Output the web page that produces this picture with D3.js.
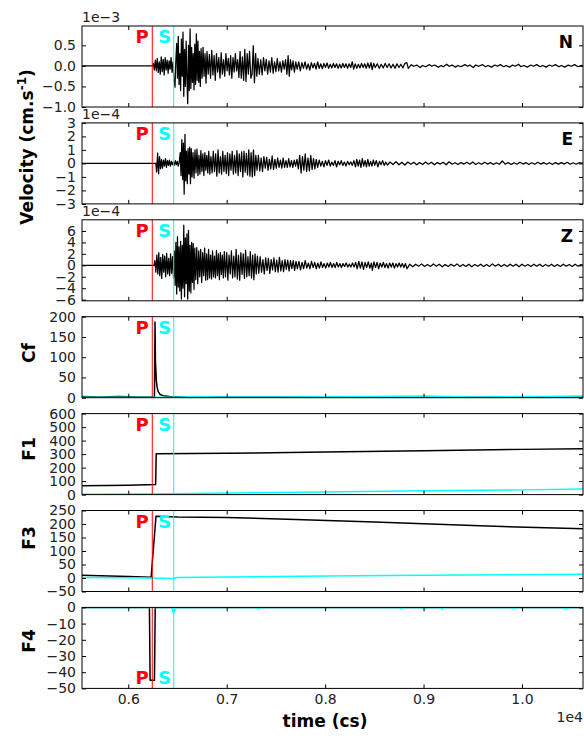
<!DOCTYPE html>
<html><head><meta charset="utf-8">
<script src="https://cdn.jsdelivr.net/npm/d3@7"></script>
<style>body{margin:0;background:#fff}svg{display:block}text{font-family:"DejaVu Sans",sans-serif}</style>
</head><body>
<script>
// ---------------- data ----------------
const timeDomain = [5530, 10620];           // cs
const xTicks = [6000, 7000, 8000, 9000, 10000];
const pickP = 6244, pickS = 6462;            // cs

// Velocity N (x1e-3)
const velN = [[5530,0],[6248,0],
[6255,.06],[6265,-.1],[6275,.14],[6285,-.12],[6295,.18],[6305,-.16],[6315,.1],[6325,-.2],[6335,.22],[6345,-.14],[6355,.16],[6365,-.22],[6375,.2],[6385,-.1],[6395,.14],[6405,-.18],[6415,.12],[6425,-.08],[6435,.2],[6445,-.16],[6455,.1],
[6465,-.35],[6475,-.52],[6483,.1],[6492,.55],[6500,-.3],[6508,.72],[6516,-.45],[6524,.3],[6532,-.6],[6540,.65],[6548,-.25],[6556,.82],[6564,-.74],[6572,.4],[6580,-.5],[6588,.6],[6596,-.3],[6604,-.92],[6612,.5],[6620,-.6],[6628,.9],[6636,-.55],[6644,.45],[6652,-.4],[6660,.3],[6668,-.58],[6676,.53],[6684,-.45],[6692,.78],[6700,-.35],[6708,.6],[6716,-.4],[6724,.35],[6732,-.5],[6740,.42],[6750,-.3],[6760,.45],[6770,-.25],[6780,.3],[6790,-.42],[6800,.35],[6812,-.2],[6824,.28],[6836,-.3],[6848,.38],[6860,-.22],[6872,.25],[6884,-.35],[6896,.3],[6908,-.15],[6920,.2],[6932,-.3],[6944,.32],[6956,-.2],[6968,.15],[6980,-.25],[6992,.3],[7004,-.12],[7016,.18],[7028,-.22],[7040,.25],[7052,-.3],[7064,.2],[7076,-.15],[7088,.3],[7100,-.12],[7112,.15],[7124,-.28],[7136,.35],[7148,-.3],[7160,.22],[7172,-.35],[7184,.4],[7196,-.38],[7208,.3],[7220,-.2],[7232,.35],[7246,-.3],[7258,-.2],[7270,.49],[7282,-.41],[7294,.3],[7306,-.25],
[7318,.18],[7332,-.2],[7346,.15],[7360,-.22],[7374,.2],[7388,-.12],[7402,.16],[7416,-.2],[7430,.12],[7444,-.15],[7458,.2],[7472,-.18],[7486,.1],[7500,-.14],[7514,.18],[7528,-.12],[7542,.1],[7556,-.15],[7570,.12],[7584,-.08],[7598,.15],[7612,-.2],[7624,.25],[7636,-.25],[7648,.15],[7660,-.1],[7674,.12],[7688,-.15],[7702,.1],[7716,-.08],
[7732,.1],[7748,-.12],[7764,.08],[7780,-.06],[7796,.1],[7812,-.08],[7828,.05],[7844,-.1],[7860,.08],[7876,-.05],[7892,.06],[7908,-.08],[7924,.1],[7940,-.06],[7956,.05],[7972,-.07],[7988,.06],[8004,-.04],[8020,.07],[8036,-.06],[8052,.04],[8068,-.05],[8084,.06],[8100,-.04],[8116,.05],[8132,-.06],[8148,.04],[8164,-.05],[8180,.06],[8196,-.04],[8212,.05],[8228,-.06],[8244,.05],[8260,-.04],[8276,.1],[8290,-.08],[8306,.05],[8322,-.06],[8338,.04],[8354,-.05],[8370,.06],[8386,-.04],[8402,.05],[8418,-.06],[8434,.07],[8450,-.05],[8466,.08],[8478,-.09],[8494,.06],[8510,-.04],[8530,.05],[8550,-.06],[8570,.04],[8590,-.05],[8610,.06],[8630,-.04],[8650,.05],[8670,-.05],[8690,.04],[8710,-.06],[8730,.05],[8750,-.04],[8770,.04],[8790,-.05],[8810,.06],[8830,.08],[8845,-.06],
[8875,.03],[8900,-.01],[8930,.02],[8965,-.04],[8990,.01],[9020,-.02],[9060,.03],[9085,-.01],[9110,.02],[9150,-.03],[9180,.01],[9200,-.02],[9235,.04],[9260,-.01],[9290,.02],[9325,-.03],[9350,.01],[9380,-.02],[9420,.03],[9450,-.01],[9470,.02],[9505,-.04],[9530,.02],[9560,-.01],[9600,.03],[9630,-.02],[9655,.01],[9690,-.03],[9725,.02],[9750,-.01],[9780,.03],[9815,-.02],[9840,.01],[9875,-.03],[9905,.02],[9930,-.01],[9965,.04],[9990,-.02],[10020,.01],[10055,-.03],[10090,.02],[10115,-.01],[10150,.03],[10185,-.02],[10210,.01],[10245,-.03],[10280,.02],[10305,-.01],[10340,.03],[10375,-.02],[10400,.01],[10435,-.03],[10470,.02],[10500,-.01],[10535,.03],[10570,-.02],[10600,.01],[10620,0]];

// Velocity E (x1e-4)
const velE = [[5530,0],[6280,0],
[6288,-.63],[6298,.76],[6308,-.76],[6318,.5],[6328,-.4],[6338,.3],[6348,-.35],[6358,.25],[6368,-.2],[6378,.35],[6388,-.3],[6398,.2],[6408,-.15],[6418,.25],[6428,-.2],[6438,.15],[6448,-.1],[6458,.12],[6468,-.15],[6478,.2],[6488,-.1],[6498,.15],[6508,-.2],[6518,.1],
[6528,.8],[6536,-.9],[6544,1.77],[6552,-1.2],[6560,1.5],[6568,-2.28],[6576,2.15],[6584,-1.3],[6592,.9],[6600,-1.5],[6608,1.1],[6616,-.8],[6624,1.2],[6632,-1.5],[6640,1.1],[6648,-1.0],[6658,.8],[6668,-1.1],[6678,1.0],[6688,-.7],[6698,1.05],[6708,-.9],[6718,.6],[6728,-.8],[6738,.95],[6748,-.6],[6758,.7],[6768,-.9],[6778,.8],[6788,-.5],[6798,.6],[6808,-.7],[6818,.9],[6828,-.8],[6840,.5],[6852,-.7],[6864,.9],[6876,-.6],[6888,.7],[6900,-.95],[6912,1.0],[6924,-.7],[6936,.5],[6948,-.8],[6960,.9],[6972,-.6],[6984,.6],[6996,-.75],[7008,.8],[7020,-.9],[7032,.7],[7044,-.5],[7056,.9],[7068,-.8],[7080,.6],[7092,-.7],[7104,.95],[7116,-.9],[7128,.7],[7140,-.6],[7152,.85],[7164,-1.0],[7176,.9],[7188,-.65],[7200,.75],[7212,-.85],[7224,1.0],[7236,-.95],[7248,.8],[7260,-1.0],[7272,1.0],[7284,-.9],[7296,.6],[7308,-.5],
[7322,.6],[7336,-.55],[7350,.4],[7364,-.6],[7378,.5],[7392,-.35],[7406,.45],[7420,-.5],[7434,.3],[7448,-.4],[7462,.55],[7476,-.45],[7490,.3],[7504,-.35],[7518,.4],[7532,-.3],[7546,.25],[7560,-.35],[7574,.4],[7588,-.3],[7602,.2],[7616,-.3],[7630,.35],[7644,-.25],[7658,.2],[7672,-.3],[7686,.25],[7700,-.2],[7714,.3],
[7728,-.4],[7742,.6],[7756,-.7],[7770,.5],[7784,-.5],[7798,.7],[7812,-.6],[7826,.4],[7840,-.55],[7854,.6],[7868,-.45],[7882,.35],[7896,-.4],[7910,.3],[7924,-.3],
[7940,.25],[7956,-.2],[7972,.15],[7988,-.25],[8004,.2],[8020,-.15],[8036,.25],[8052,-.2],[8068,.1],[8084,-.15],[8100,.2],[8116,-.25],[8132,.15],[8148,-.1],[8164,.2],[8180,-.15],[8196,.1],[8212,-.2],[8228,.15],[8244,-.1],[8260,.12],[8276,-.15],[8292,.2],
[8308,-.25],[8322,.3],[8336,-.2],[8350,.25],[8364,-.3],[8378,.35],[8392,-.2],[8406,.2],[8420,-.25],[8434,.3],[8448,-.2],[8462,.15],[8476,-.2],[8490,.25],[8504,-.15],[8520,.2],[8536,-.25],[8552,.15],[8568,-.1],[8584,.2],[8600,-.15],[8616,.1],[8632,-.12],
[8660,.1],[8690,-.08],[8720,.12],[8750,-.1],[8780,.08],[8810,-.12],[8840,.1],[8870,-.06],[8900,.08],[8930,-.1],[8960,.06],[8990,-.08],[9020,.1],[9050,-.06],[9080,.08],[9110,-.1],[9140,.06],[9170,-.05],[9200,.08],[9230,-.1],[9260,.12],[9290,-.06],[9320,.05],[9350,-.08],[9380,.06],[9410,-.05],[9440,.08],[9470,-.06],[9500,.1],[9530,-.08],[9560,.05],[9590,-.06],[9620,.08],[9650,-.05],[9680,.06],[9710,-.08],[9740,.05],[9770,-.06],[9800,.18],[9830,-.05],[9860,.06],[9890,-.08],[9920,.05],[9950,-.06],[9980,.08],[10010,-.05],[10040,.06],[10070,-.08],[10100,.05],[10130,-.06],[10160,.08],[10190,-.05],[10220,.06],[10250,-.06],[10280,.05],[10310,-.08],[10340,.06],[10370,-.05],[10400,.06],[10430,-.05],[10460,.08],[10490,-.06],[10520,.05],[10550,-.06],[10580,.05],[10620,0]];

// Velocity Z (x1e-4)
const velZ = [[5530,0],[6262,0],
[6270,.8],[6280,-1.2],[6290,1.8],[6300,-1.5],[6310,2.2],[6320,-1.8],[6330,1.4],[6340,-2.3],[6350,1.9],[6360,-1.2],[6370,1.6],[6380,-2.0],[6390,2.1],[6400,-1.5],[6410,1.2],[6420,-1.8],[6430,2.0],[6440,-1.4],[6450,1.5],[6460,-2.2],
[6468,2.5],[6476,-3.5],[6484,4.0],[6492,-5.0],[6500,5.0],[6508,-3.8],[6516,3.2],[6524,-4.5],[6532,4.2],[6540,-5.9],[6548,3.5],[6556,-4.0],[6564,7.0],[6572,-5.5],[6580,4.8],[6588,-3.2],[6596,5.5],[6604,-5.9],[6612,6.1],[6620,-4.5],[6628,3.5],[6636,-4.8],[6644,4.0],[6652,-3.0],[6660,3.8],[6668,-4.2],[6676,3.0],
[6686,-2.5],[6696,3.1],[6706,-3.2],[6716,2.5],[6726,-2.0],[6736,2.8],[6746,-3.0],[6756,2.2],[6766,-1.8],[6776,3.0],[6786,-2.6],[6796,2.0],[6806,-2.5],[6816,2.8],[6826,-2.2],[6836,1.8],[6846,-2.4],[6856,2.5],[6866,-2.0],[6876,1.6],[6886,-2.2],[6896,2.6],[6906,-1.8],[6916,2.0],[6926,-2.5],[6936,2.2],[6946,-1.6],[6956,1.8],[6966,-2.2],[6976,2.4],
[6988,-2.0],[7000,2.2],[7012,-2.6],[7024,1.8],[7036,-1.5],[7048,2.5],[7060,-2.2],[7072,1.6],[7084,-2.0],[7096,2.8],[7108,-2.4],[7120,1.8],[7132,-2.6],[7144,2.2],[7156,-1.6],[7168,2.0],[7180,-2.3],[7192,2.6],[7204,-2.0],[7216,1.5],[7228,-1.8],[7240,2.4],[7252,-2.2],[7264,1.8],[7276,-2.5],[7288,2.0],[7300,-1.5],[7312,1.6],
[7326,-1.4],[7340,1.5],[7354,-1.2],[7368,1.0],[7382,-1.5],[7396,1.3],[7410,-.9],[7424,1.2],[7438,-1.4],[7452,1.0],[7466,-.8],[7480,1.3],[7494,-1.1],[7508,.9],[7522,-1.2],[7536,1.4],[7550,-1.0],[7564,.8],[7578,-1.1],[7592,1.0],[7606,-.7],[7620,.9],[7634,-1.0],[7648,.8],[7662,-.6],[7676,.8],[7690,-.9],[7704,.7],[7718,-.6],
[7734,.7],[7750,-.8],[7766,.5],[7782,-.6],[7798,.8],[7814,-.5],[7830,.4],[7846,-.6],[7862,.7],[7878,-.4],[7894,.5],[7910,-.6],[7926,.4],[7942,-.5],[7958,.6],[7974,-.4],[7990,.3],[8006,-.5],[8022,.4],[8038,-.3],[8054,.5],[8070,-.4],[8086,.3],[8102,-.4],[8118,.5],[8134,-.3],[8150,.3],[8166,-.4],[8182,.3],[8198,-.2],[8214,.4],[8230,-.3],[8246,.2],[8262,-.3],[8278,.4],[8294,-.3],
[8310,.5],[8326,-.6],[8342,.7],[8358,-.5],[8374,.6],[8390,-.7],[8406,.5],[8422,-.4],[8438,.6],[8454,-.5],[8470,.4],[8480,-.9],[8496,.6],[8512,-.4],[8528,.5],[8544,-.6],[8560,.4],[8576,-.3],[8592,.5],[8608,-.4],[8624,.3],[8640,-.5],[8656,.4],[8672,-.3],[8688,.4],[8704,-.5],[8720,.3],[8736,-.3],[8752,.4],[8768,-.3],[8784,.3],[8800,-.4],[8816,.3],[8832,-.6],
[8860,.2],[8890,-.25],[8920,.2],[8950,-.15],[8980,.25],[9010,-.2],[9040,.15],[9070,-.2],[9100,.25],[9130,-.15],[9160,.2],[9190,-.25],[9220,.15],[9250,-.2],[9280,.2],[9310,-.15],[9340,.25],[9370,-.2],[9400,.15],[9430,-.2],[9460,.2],[9490,-.25],[9520,.15],[9550,-.15],[9580,.2],[9610,-.2],[9640,.15],[9670,-.2],[9700,.25],[9730,-.15],[9760,.2],[9790,-.2],[9820,.15],[9850,-.2],[9880,.2],[9910,-.15],[9940,.2],[9970,-.25],[10000,.2],[10030,-.15],[10060,.15],[10090,-.2],[10120,.2],[10150,-.15],[10180,.2],[10210,-.2],[10240,.15],[10270,-.15],[10300,.2],[10330,-.2],[10360,.15],[10390,-.2],[10420,.2],[10450,-.15],[10480,.15],[10510,-.2],[10540,.2],[10570,-.15],[10600,.15],[10620,0]];

// Characteristic function and features: black series and cyan series
const cfBlack = [[5530,3],[5700,2],[5900,3],[6100,2],[6266,2],[6272,187],[6276,90],[6280,70],[6286,40],[6294,25],[6304,15],[6324,8],[6354,5],[6420,3],[6600,2],[7000,1.5],[8000,1.5],[9000,1],[10620,1]];
const cfCyan  = [[5530,1],[6000,1],[6460,1],[6700,3],[6900,2],[7500,2],[8500,3],[9000,4],[9500,2],[10200,3],[10620,4]];
const f1Black = [[5530,66],[6000,70],[6278,74],[6284,302],[7000,306],[8000,316],[9000,325],[10000,335],[10620,340]];
const f1Cyan  = [[5530,3],[6460,6],[7000,12],[8000,20],[9000,28],[10000,35],[10620,42]];
const f3Black = [[5530,10],[6000,6],[6232,3],[6282,229],[6500,226],[7000,224],[7700,217],[8500,207],[9500,194],[10620,182]];
const f3Cyan  = [[5530,2],[6000,1],[6230,0],[6460,-2],[6500,2],[7000,4],[8000,7],[9000,10],[10620,14]];
const f4Black = [[5530,0],[6215,0],[6222,-45],[6266,-45],[6274,0],[10620,0]];
const f4Cyan  = [[5530,0],[6440,0],[6462,-3.5],[6484,0],[7300,0],[7320,-.8],[7340,0],[8750,0],[8770,-.8],[8790,0],[8990,0],[9010,-1],[9030,0],[9170,0],[9190,-1],[9210,0],[9890,0],[9910,-.6],[9930,0],[10420,0],[10440,-.8],[10460,-.8],[10480,0],[10620,0]];

// y tick values
const ticksN = [-1, -0.5, 0, 0.5];
const ticksE = [-3, -2, -1, 0, 1, 2, 3];
const ticksZ = [-6, -4, -2, 0, 2, 4, 6];
const ticksCf = [0, 50, 100, 150, 200];
const ticksF1 = [0, 100, 200, 300, 400, 500, 600];
const ticksF3 = [-50, 0, 50, 100, 150, 200, 250];
const ticksF4 = [-50, -40, -30, -20, -10, 0];

// ---------------- drawing ----------------
const W = 584, H = 738, L = 82, R = 583;
const svg = d3.select('body').append('svg').attr('width', W).attr('height', H);
const x = d3.scaleLinear().domain(timeDomain).range([L, R]);
const f1 = d3.format('.1f'), f0 = d3.format('d');

const panels = [
  {series:[[velN,'#000']], dom:[-1,0.97], ticks:ticksN, fmt:f1, comp:'N', off:'1e\u22123'},
  {series:[[velE,'#000']], dom:[-3,3], ticks:ticksE, fmt:f0, comp:'E', off:'1e\u22124'},
  {series:[[velZ,'#000']], dom:[-6.2,7.95], ticks:ticksZ, fmt:f0, comp:'Z', off:'1e\u22124'},
  {series:[[cfBlack,'#000'],[cfCyan,'#00ffff']], dom:[0,200], ticks:ticksCf, fmt:f0, ylab:'Cf', ly:353},
  {series:[[f1Black,'#000'],[f1Cyan,'#00ffff']], dom:[0,600], ticks:ticksF1, fmt:f0, ylab:'F1', ly:449},
  {series:[[f3Black,'#000'],[f3Cyan,'#00ffff']], dom:[-50,250], ticks:ticksF3, fmt:f0, ylab:'F3', ly:538},
  {series:[[f4Black,'#000'],[f4Cyan,'#00ffff']], dom:[-50,0], ticks:ticksF4, fmt:f0, ylab:'F4', ly:641, psBottom:true}
];

const PH = 81;
panels.forEach((p, i) => {
  const top = 26 + i * 96.9, bot = top + PH;
  const y = d3.scaleLinear().domain(p.dom).range([bot, top]);
  const g = svg.append('g');
  const cid = 'clip' + i;
  svg.append('clipPath').attr('id', cid).append('rect').attr('x', L).attr('y', top).attr('width', R - L).attr('height', PH);
  const inner = g.append('g').attr('clip-path', `url(#${cid})`);
  const line = d3.line().x(d => x(d[0])).y(d => y(d[1]));
  p.series.forEach(([data, col]) => {
    inner.append('path').datum(data).attr('d', line).attr('fill', 'none')
      .attr('stroke', col).attr('stroke-width', i < 3 ? 1.25 : 1.5).attr('stroke-linejoin', 'round');
  });
  // picks
  inner.append('line').attr('x1', x(pickP)).attr('x2', x(pickP)).attr('y1', top).attr('y2', bot).attr('stroke', '#ff0000').attr('stroke-width', 1);
  inner.append('line').attr('x1', x(pickS)).attr('x2', x(pickS)).attr('y1', top).attr('y2', bot).attr('stroke', '#00ffff').attr('stroke-width', 1);
  const psY = p.psBottom ? bot - 4 : top + 17;
  g.append('text').attr('x', x(pickP) - 3.5).attr('y', psY).attr('text-anchor', 'end').attr('font-size', 18).attr('font-weight', 'bold').attr('fill', '#ff0000').text('P');
  g.append('text').attr('x', x(pickS) - 2.5).attr('y', psY).attr('text-anchor', 'end').attr('font-size', 18).attr('font-weight', 'bold').attr('fill', '#00ffff').text('S');
  // axes
  const styleAx = a => { a.select('.domain').remove(); a.selectAll('line').attr('stroke', '#000'); a.selectAll('text').attr('font-size', 14).attr('fill', '#222').attr('font-family', '"DejaVu Sans",sans-serif'); };
  g.append('g').attr('transform', `translate(${L},0)`).call(d3.axisLeft(y).tickValues(p.ticks).tickFormat(p.fmt).tickSize(-4).tickPadding(6)).call(styleAx);
  g.append('g').attr('transform', `translate(${R},0)`).call(d3.axisRight(y).tickValues(p.ticks).tickFormat('').tickSize(-4)).call(styleAx);
  g.append('g').attr('transform', `translate(0,${top})`).call(d3.axisTop(x).tickValues(xTicks).tickFormat('').tickSize(-4)).call(styleAx);
  g.append('g').attr('transform', `translate(0,${bot})`).call(d3.axisBottom(x).tickValues(xTicks).tickFormat(i === 6 ? (d => f1(d / 10000)) : '').tickSize(-4).tickPadding(6)).call(styleAx);
  g.append('rect').attr('x', L).attr('y', top).attr('width', R - L).attr('height', PH).attr('fill', 'none').attr('stroke', '#000').attr('stroke-width', 1);
  if (p.comp) {
    g.append('text').attr('x', 573).attr('y', top + 22).attr('text-anchor', 'end').attr('font-size', 17).attr('font-weight', 'bold').text(p.comp);
    g.append('text').attr('x', L).attr('y', top - 4).attr('font-size', 14).attr('fill', '#222').text(p.off);
  }
  if (p.ylab) {
    svg.append('text').attr('transform', `translate(35,${p.ly}) rotate(-90)`).attr('text-anchor', 'middle')
      .attr('font-size', 17).attr('font-weight', 'bold').text(p.ylab);
  }
});

// velocity label
const vl = svg.append('text').attr('transform', 'translate(33,147) rotate(-90)').attr('text-anchor', 'middle')
  .attr('font-size', 17).attr('font-weight', 'bold');
vl.append('tspan').text('Velocity (cm.s');
vl.append('tspan').attr('font-size', 12).attr('dy', -7).text('-1');
vl.append('tspan').attr('dy', 7).text(')');

// x label and offset
svg.append('text').attr('x', 325).attr('y', 727).attr('text-anchor', 'middle').attr('font-size', 17).attr('font-weight', 'bold').text('time (cs)');
svg.append('text').attr('x', 583).attr('y', 722).attr('text-anchor', 'end').attr('font-size', 14).attr('fill', '#222').text('1e4');
</script>
</body></html>
